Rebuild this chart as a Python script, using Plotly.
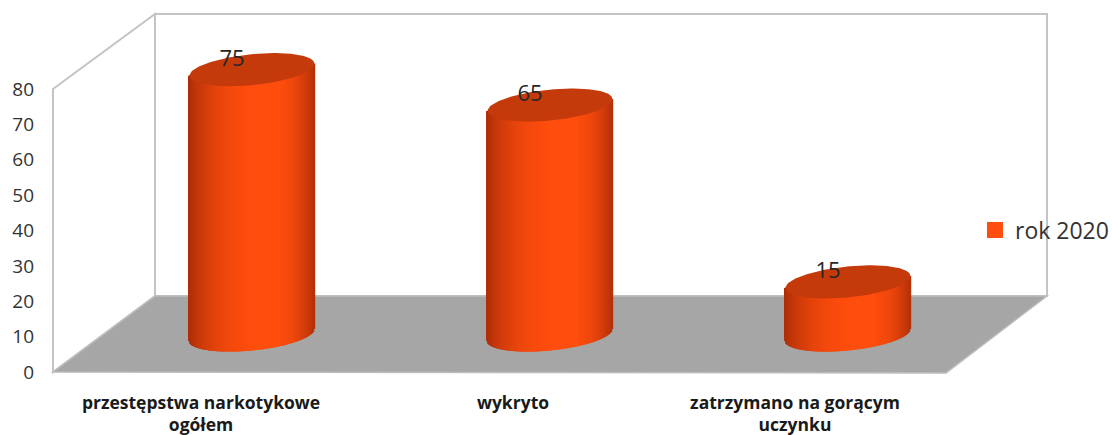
import numpy as np
import plotly.graph_objects as go

categories = ['przestępstwa narkotykowe<br>ogółem', 'wykryto', 'zatrzymano na gorącym<br>uczynku']
values = [75, 65, 15]
y_ticks = [0, 10, 20, 30, 40, 50, 60, 70, 80]
series_name = 'rok 2020'
label_shift = [-51, -37, -53]  # tick labels sit on the front edge, cylinders further back

W, H = 1112, 435
PX_Y = 3.5375  # px per unit on value axis
PX_X = 298.0   # px between cylinders
ZERO_Y = 372
FIRST_X = 252

BASE = (ZERO_Y - 335) / PX_Y   # cylinder floor sits back from the front edge
HALF_W = 62.5 / PX_X
ELL_H = 15.5 / PX_Y
TILT = 0.095 * PX_X / PX_Y     # ellipses lean up to the right


def px(x, y):
    return x / W, 1 - y / H


def poly(points):
    parts = ['%s%.5f,%.5f' % ('M' if i == 0 else 'L', *px(*p)) for i, p in enumerate(points)]
    return ' '.join(parts) + ' Z'


def shade(t):
    f = np.interp(t, [0, .05, .12, .22, .35, .5, .72, .84, .93, 1],
                  [0, .22, .45, .68, .88, 1, 1, .8, .48, .12])
    r = 172 + (255 - 172) * f
    g = 46 + (77 - 46) * f
    b = 8 + (13 - 8) * f
    return 'rgb(%d,%d,%d)' % (r, g, b)


fig = go.Figure()

n = 126
dx = np.linspace(-HALF_W, HALF_W, n)
arc = ELL_H * np.sqrt(1 - (dx / HALF_W) ** 2)
colors = [shade(t) for t in np.linspace(0, 1, n)]
theta = np.linspace(0, 2 * np.pi, 160)

for i, v in enumerate(values):
    low = BASE + TILT * dx - arc
    top = BASE + v + TILT * dx
    fig.add_trace(go.Bar(x=i + dx, y=top - low, base=low, width=1.4 / PX_X,
                         marker=dict(color=colors, line=dict(width=0)),
                         showlegend=False, hoverinfo='skip'))
    ex = HALF_W * np.cos(theta)
    fig.add_trace(go.Scatter(x=i + ex, y=BASE + v + TILT * ex + ELL_H * np.sin(theta),
                             mode='lines', fill='toself', fillcolor='#C43A0A',
                             line=dict(width=0), showlegend=False, hoverinfo='skip'))

# value labels, slightly left of the cylinder axis
fig.add_trace(go.Scatter(x=[i - 20 / PX_X for i in range(len(values))],
                         y=[BASE + v + 9.5 / PX_Y for v in values],
                         mode='text', text=[str(v) for v in values],
                         textfont=dict(family='Open Sans', size=22, color='#262626'),
                         showlegend=False, hoverinfo='skip'))

fig.add_trace(go.Scatter(x=[None], y=[None], mode='markers', name=series_name,
                         marker=dict(symbol='square', size=16, color='#FF4D0D')))

wall = dict(type='path', xref='paper', yref='paper', layer='below',
            line=dict(color='#C4C4C4', width=2), fillcolor='white')
shapes = [
    dict(wall, path=poly([(53, 89), (155, 14), (155, 296), (53, 372)])),
    dict(wall, path=poly([(155, 14), (1047, 14), (1047, 296), (155, 296)])),
    dict(type='path', xref='paper', yref='paper', layer='below',
         path=poly([(53, 372), (155, 296), (1047, 296), (946, 373)]),
         line=dict(color='#BDBDBD', width=1.5), fillcolor='#A6A6A6'),
]

fig.update_layout(
    width=W, height=H,
    margin=dict(l=0, r=0, t=0, b=0, autoexpand=False),
    paper_bgcolor='white', plot_bgcolor='rgba(0,0,0,0)',
    barmode='overlay',
    shapes=shapes,
    showlegend=True,
    legend=dict(x=975 / W, y=1 - 230 / H, xanchor='left', yanchor='middle',
                bgcolor='rgba(0,0,0,0)', itemwidth=30,
                font=dict(family='Open Sans', size=23, color='#333333')),
    xaxis=dict(range=[-FIRST_X / PX_X, (W - FIRST_X) / PX_X],
               domain=[0, 1], anchor='free', position=1 - 390 / H,
               tickvals=[i + s / PX_X for i, s in enumerate(label_shift)],
               ticktext=['<b>%s</b>' % c for c in categories],
               ticks='', showgrid=False, zeroline=False, showline=False,
               tickangle=0, automargin=False,
               tickfont=dict(family='Open Sans', size=17.5, color='#1a1a1a')),
    yaxis=dict(range=[(ZERO_Y - H) / PX_Y, ZERO_Y / PX_Y],
               domain=[0, 1], anchor='free', position=34 / W,
               tickvals=y_ticks, ticks='', showgrid=False, zeroline=False,
               showline=False, automargin=False,
               tickfont=dict(family='Open Sans', size=19, color='#333333')),
)

# the page's default body margin pushes the fixed-size figure off by 8px
fig.write_html("out.html", config={'displayModeBar': False},
               post_script="document.body.style.margin='0';")
